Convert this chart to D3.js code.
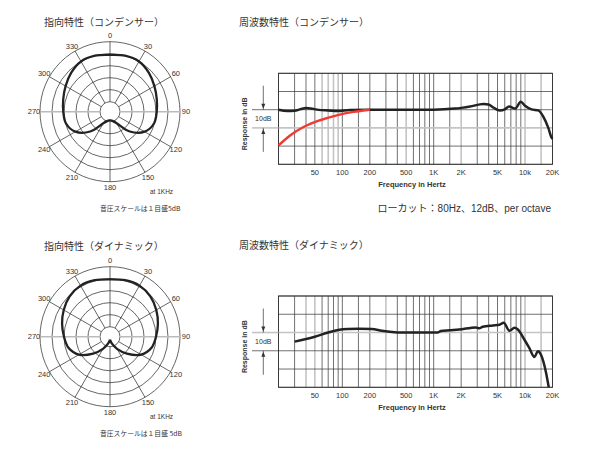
<!DOCTYPE html>
<html>
<head>
<meta charset="utf-8">
<script src="https://cdn.jsdelivr.net/npm/d3@7"></script>
<style>
  body { margin: 0; background: #fff; }
  svg { display: block; }
</style>
</head>
<body>
<svg id="chart"></svg>
<script>
const width = 600;
const height = 450;

// polar patterns: dB at each angle (0 = front), the other side is mirrored
const polarAngles = [0, 15, 30, 45, 60, 75, 90, 105, 120, 135, 150, 165, 180];
const condenserPolar = [-5.5, -5.0, -5.0, -6.25, -7.8, -9.0, -9.7, -10.2, -12.5, -17.5, -23.6, -25.2, -25.7];
const dynamicPolar = [-5.25, -4.8, -4.6, -5.4, -6.9, -8.5, -10.0, -11.25, -14.2, -19.2, -23.3, -26.25, -27.9];
const ringDb = [-25, -20, -15, -10, -5, 0];
const spokeAngles = [0, 30, 60, 90, 120, 150, 180, 210, 240, 270, 300, 330];

// frequency response (Hz, dB)
const condFreq = [20, 25, 30, 35, 40, 45, 55, 70, 90, 120, 200, 500, 1000, 1700, 2000, 2500, 3500, 4000, 4500, 5300, 6000, 6700, 7800, 9000, 10000, 11800, 14000, 15900, 18000, 19600, 20000];
const condDb   = [0, -0.7, -0.6, 0.3, 0.9, 0.7, -0.1, -0.4, -0.7, -0.1, 0, 0, 0, 0.6, 1.0, 1.7, 3.2, 2.9, 1.2, -0.4, 0.2, 1.7, 0.6, 4.3, 2.2, 0.2, -0.4, -4.0, -10, -15.5, -16];
const lowCutFreq = [20, 27, 37.6, 57, 87, 132, 200];
const lowCutDb   = [-19.6, -14, -9.5, -5.8, -3.1, -1.2, 0];
const dynFreq = [30, 39, 50, 70, 90, 115, 150, 210, 270, 350, 450, 1100, 1200, 1500, 1900, 2900, 3150, 3450, 4450, 5250, 5850, 6750, 7700, 8300, 9900, 11200, 12700, 13800, 15000, 17000, 18200];
const dynDb   = [-5.0, -3.7, -2.3, 0, 1.4, 1.9, 2.0, 1.9, 1.0, 0.3, 0, 0, 0.8, 1.2, 1.6, 2.8, 2.3, 3.2, 3.9, 4.3, 5.4, 1.0, 2.6, 1.8, -4.1, -8.7, -13.4, -10.3, -12.3, -22, -30];

const gridFreq = [20, 30, 40, 50, 60, 70, 80, 90, 100, 150, 200, 300, 400, 500, 600, 700, 800, 900,
  1000, 1500, 2000, 3000, 4000, 5000, 6000, 7000, 8000, 9000, 10000, 15000, 20000];
const condGray = [60, 70, 80, 90, 500, 2000, 10000, 15000];
const dynGray = [40, 50, 300, 10000, 15000];
const tickFreq = [50, 100, 200, 500, 1000, 2000, 5000, 10000, 20000];
const tickLabels = ["50", "100", "200", "500", "1K", "2K", "5K", "10k", "20K"];
const dbLines = [-30, -20, -10, 0, 10, 20];

const jp = "'Noto Sans CJK JP', sans-serif";
const latin = "'Liberation Sans', Arial, sans-serif";
const mixed = "'Liberation Sans', 'Noto Sans CJK JP', sans-serif";

const svg = d3.select("#chart")
  .attr("width", width)
  .attr("height", height)
  .attr("viewBox", [0, 0, width, height]);

function drawPolar(cx, cy, values, title, note, titleY) {
  const g = svg.append("g").attr("transform", `translate(${cx},${cy})`);
  const r = d3.scaleLinear().domain([-25, 0]).range([10, 70]);
  const rad = a => a * Math.PI / 180;

  svg.append("text")
    .attr("x", 44).attr("y", titleY).attr("dy", "0.35em")
    .attr("font-family", jp).attr("font-size", 10).attr("fill", "#333")
    .text(title);

  g.selectAll("circle.ring")
    .data(ringDb)
    .join("circle")
      .attr("r", d => r(d))
      .attr("fill", "none")
      .attr("stroke", "#333")
      .attr("stroke-width", 0.75);

  // spokes from inner ring to outer ring; 90/270 one is grey
  g.selectAll("line.spoke")
    .data(spokeAngles)
    .join("line")
      .attr("x1", d => Math.sin(rad(d)) * r(-25))
      .attr("y1", d => -Math.cos(rad(d)) * r(-25))
      .attr("x2", d => Math.sin(rad(d)) * r(0))
      .attr("y2", d => -Math.cos(rad(d)) * r(0))
      .attr("stroke", d => (d === 90 || d === 270) ? "#bbb" : "#333")
      .attr("stroke-width", d => (d === 90 || d === 270) ? 1.6 : 0.75);

  g.selectAll("text.angle")
    .data(spokeAngles)
    .join("text")
      .attr("x", d => Math.sin(rad(d)) * 76)
      .attr("y", d => -Math.cos(rad(d)) * 76)
      .attr("dy", "0.35em")
      .attr("text-anchor", "middle")
      .attr("font-family", latin).attr("font-size", 7.5).attr("fill", "#333")
      .text(d => d);

  // full pattern, from 180 round through 0 and back to 180, so the rear cusp stays sharp
  const pts = [];
  for (let i = polarAngles.length - 1; i > 0; i--) pts.push({ a: -polarAngles[i], v: values[i] });
  for (let i = 0; i < polarAngles.length; i++) pts.push({ a: polarAngles[i], v: values[i] });

  g.append("path")
    .datum(pts)
    .attr("d", d3.lineRadial()
      .angle(d => rad(d.a))
      .radius(d => r(d.v))
      .curve(d3.curveCatmullRom))
    .attr("fill", "none")
    .attr("stroke", "#222")
    .attr("stroke-width", 2.3);

  svg.append("text")
    .attr("x", 150).attr("y", cy + 80).attr("dy", "0.35em")
    .attr("font-family", latin).attr("font-size", 6.5).attr("fill", "#333")
    .text("at 1KHz");
  svg.append("text")
    .attr("x", 100).attr("y", cy + 96.5).attr("dy", "0.35em")
    .attr("font-family", jp).attr("font-size", 6.8).attr("fill", "#333")
    .text(note);
}

function drawFreq(top, bottom, title, titleY, grayFreq, grayDb, curves) {
  const x = d3.scaleLog().domain([20, 20000]).range([278.5, 552.5]);
  const y = d3.scaleLinear().domain([-30, 20]).range([bottom, top]);
  const g = svg.append("g");

  svg.append("text")
    .attr("x", 239).attr("y", titleY).attr("dy", "0.35em")
    .attr("font-family", jp).attr("font-size", 10).attr("fill", "#333")
    .text(title);

  // grey lines first so the black ones sit on top
  const vs = gridFreq.map(f => ({ f, gray: grayFreq.includes(f) }))
    .sort((a, b) => b.gray - a.gray);
  g.selectAll("line.v")
    .data(vs)
    .join("line")
      .attr("x1", d => x(d.f)).attr("x2", d => x(d.f))
      .attr("y1", top).attr("y2", bottom)
      .attr("stroke", d => d.gray ? "#c4c4c4" : "#333")
      .attr("stroke-width", d => d.gray ? 1.6 : 0.7);

  const hs = dbLines.map(v => ({ v, gray: v === grayDb })).sort((a, b) => b.gray - a.gray);
  g.selectAll("line.h")
    .data(hs)
    .join("line")
      .attr("x1", x(20)).attr("x2", x(20000))
      .attr("y1", d => y(d.v)).attr("y2", d => y(d.v))
      .attr("stroke", d => d.gray ? "#c4c4c4" : "#333")
      .attr("stroke-width", d => d.gray ? 1.6 : 0.7);

  g.append("rect")
    .attr("x", x(20)).attr("y", top)
    .attr("width", x(20000) - x(20)).attr("height", bottom - top)
    .attr("fill", "none").attr("stroke", "#333").attr("stroke-width", 0.9);

  // 10dB marker at the left
  const ax = 263.3;
  [0, -10].forEach(v => {
    g.append("line")
      .attr("x1", 252).attr("x2", x(20))
      .attr("y1", y(v)).attr("y2", y(v))
      .attr("stroke", v === grayDb ? "#c4c4c4" : "#333")
      .attr("stroke-width", v === grayDb ? 1.6 : 0.7);
  });
  const y0 = y(0), y1 = y(-10);
  g.append("line").attr("x1", ax).attr("x2", ax).attr("y1", y0 - 24).attr("y2", y0)
    .attr("stroke", "#333").attr("stroke-width", 0.7);
  g.append("line").attr("x1", ax).attr("x2", ax).attr("y1", y1).attr("y2", y1 + 24)
    .attr("stroke", "#333").attr("stroke-width", 0.7);
  g.append("path").attr("d", `M${ax - 2},${y0 - 6}L${ax + 2},${y0 - 6}L${ax},${y0 - 1}Z`).attr("fill", "#333");
  g.append("path").attr("d", `M${ax - 2},${y1 + 6}L${ax + 2},${y1 + 6}L${ax},${y1 + 1}Z`).attr("fill", "#333");
  g.append("text")
    .attr("x", ax).attr("y", (y0 + y1) / 2).attr("dy", "0.35em")
    .attr("text-anchor", "middle")
    .attr("font-family", latin).attr("font-size", 7).attr("fill", "#333")
    .text("10dB");

  g.append("text")
    .attr("transform", `translate(245,${(top + bottom) / 2 + 5}) rotate(-90)`)
    .attr("dy", "0.35em")
    .attr("text-anchor", "middle")
    .attr("font-family", latin).attr("font-size", 7).attr("font-weight", "bold").attr("fill", "#333")
    .text("Response in dB");

  g.selectAll("text.tick")
    .data(tickFreq)
    .join("text")
      .attr("x", d => x(d))
      .attr("y", bottom + 8.4).attr("dy", "0.35em")
      .attr("text-anchor", "middle")
      .attr("font-family", latin).attr("font-size", 7.5).attr("fill", "#333")
      .text((d, i) => tickLabels[i]);

  g.append("text")
    .attr("x", 412).attr("y", bottom + 20.5).attr("dy", "0.35em")
    .attr("text-anchor", "middle")
    .attr("font-family", latin).attr("font-size", 7.5).attr("font-weight", "bold").attr("fill", "#333")
    .text("Frequency in Hertz");

  const line = d3.line()
    .x(d => x(d[0]))
    .y(d => y(d[1]))
    .curve(d3.curveMonotoneX);

  curves.forEach(c => {
    g.append("path")
      .datum(d3.zip(c.freq, c.db))
      .attr("d", line)
      .attr("fill", "none")
      .attr("stroke", c.color)
      .attr("stroke-width", 2.5)
      .attr("stroke-linejoin", "round");
  });
}

drawPolar(110, 111.7, condenserPolar, "指向特性（コンデンサー）", "音圧スケールは１目盛5dB", 22.7);
drawPolar(110, 336.7, dynamicPolar, "指向特性（ダイナミック）", "音圧スケールは１目盛 5dB", 246.7);

drawFreq(73.3, 164.3, "周波数特性（コンデンサー）", 22.7, condGray, -10, [
  { freq: condFreq, db: condDb, color: "#222" },
  { freq: lowCutFreq, db: lowCutDb, color: "#f03a32" }
]);
drawFreq(296, 387.3, "周波数特性（ダイナミック）", 245, dynGray, 0, [
  { freq: dynFreq, db: dynDb, color: "#222" }
]);

svg.append("text")
  .attr("x", 551).attr("y", 208.3).attr("dy", "0.35em")
  .attr("text-anchor", "end")
  .attr("font-family", mixed).attr("font-size", 10).attr("fill", "#333")
  .text("ローカット：80Hz、12dB、per octave");
</script>
</body>
</html>
